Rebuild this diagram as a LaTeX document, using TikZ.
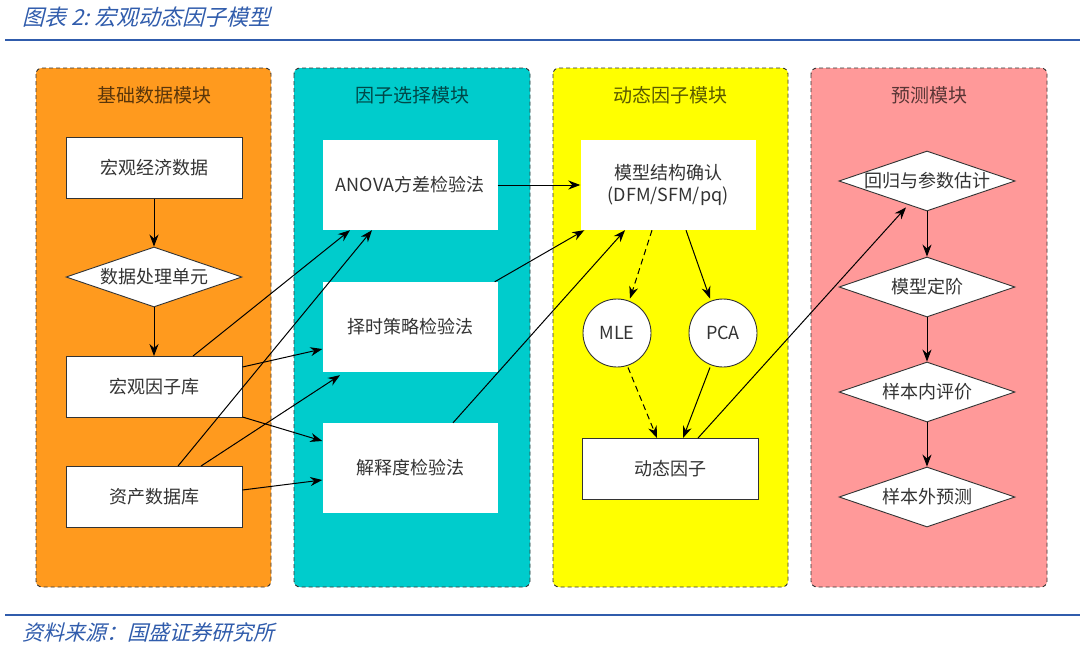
\documentclass[tikz,border=0pt]{standalone}
\usepackage{fontspec}
\setmainfont{Noto Sans CJK SC}
\newfontfamily\capfont[FakeSlant=0.25]{Noto Sans CJK SC}
\usetikzlibrary{positioning,arrows.meta,shapes.geometric}

\definecolor{capblue}{RGB}{48,92,172}
\definecolor{baseorange}{RGB}{255,154,30}
\definecolor{selteal}{RGB}{0,204,204}
\definecolor{dynyellow}{RGB}{255,255,0}
\definecolor{predpink}{RGB}{255,153,153}
\definecolor{txtgray}{RGB}{51,51,51}

\tikzset{
  modul/.style={draw=black!80, dash pattern=on 4pt off 3pt, rounded corners=6pt, line width=0.9pt},
  modtitel/.style={font=\fontsize{19}{21}\selectfont, text=black, text opacity=0.65},
  kasten/.style={rectangle, fill=white, draw=black!80, line width=0.9pt, minimum width=176pt, minimum height=61pt, font=\fontsize{18}{21}\selectfont, text=txtgray},
  feld/.style={rectangle, fill=white, minimum width=175pt, minimum height=90pt, font=\fontsize{18}{21}\selectfont, text=txtgray, align=center},
  raute/.style={diamond, aspect=3, inner sep=0pt, fill=white, draw=black!80, line width=0.9pt, minimum width=176pt, minimum height=60pt, font=\fontsize{18}{21}\selectfont, text=txtgray},
  kreis/.style={circle, fill=white, draw=black!80, line width=0.9pt, minimum size=68pt, font=\fontsize{18}{21}\selectfont, text=txtgray},
  pfeil/.style={-{Stealth[length=12pt,width=9pt]}, line width=1pt},
}

\begin{document}
\begin{tikzpicture}[x=1pt,y=-1pt]
    \useasboundingbox (0,0) rectangle (1080,648);
    \fill[white] (0,0) rectangle (1080,648);

    % Kopf und Fuss
    \node[anchor=west, font=\capfont\fontsize{22}{24}\selectfont, text=capblue] (caption) at (19,17) {图表\ 2:\ 宏观动态因子模型};
    \draw[capblue, line width=2pt] (5,40) -- (1080,40);
    \draw[capblue, line width=2pt] (5,615) -- (1080,615);
    \node[anchor=west, font=\capfont\fontsize{21}{23}\selectfont, text=capblue] (source) at (19,632) {资料来源：国盛证券研究所};

    % Module
    \draw[modul, fill=baseorange] (36,68) rectangle (271,587);
    \draw[modul, fill=selteal] (294,68) rectangle (530,587);
    \draw[modul, fill=dynyellow] (553,68) rectangle (788,587);
    \draw[modul, fill=predpink] (811,68) rectangle (1047,587);

    \node[modtitel] (tbase) at (154,95) {基础数据模块};
    \node[modtitel] (tsel) at (412,95) {因子选择模块};
    \node[modtitel] (tdyn) at (670,95) {动态因子模块};
    \node[modtitel] (tpred) at (929,95) {预测模块};

    % Basisdaten
    \node[kasten] (eco) at (154,168) {宏观经济数据};
    \node[raute] (proc) at (154,277) {数据处理单元};
    \node[kasten] (macro) at (154,387) {宏观因子库};
    \node[kasten] (asset) at (154,497) {资产数据库};

    % Faktorauswahl
    \node[feld] (anova) at (410,185) {ANOVA方差检验法};
    \node[feld] (timing) at (410,327) {择时策略检验法};
    \node[feld] (expl) at (410,468) {解释度检验法};

    % dynamische Faktoren
    \node[feld] (struct) at (668,185) {模型结构确认\\[1pt](DFM/SFM/pq)};
    \node[kreis] (mle) at (617,333) {MLE};
    \node[kreis] (pca) at (723,333) {PCA};
    \node[kasten] (dyn) at (670,469) {动态因子};

    % Prognose
    \node[raute] (est) at (927,181) {回归与参数估计};
    \node[raute] (order) at (927,287) {模型定阶};
    \node[raute] (insample) at (927,392) {样本内评价};
    \node[raute] (outsample) at (927,497) {样本外预测};

    % Verbindungen
    \draw[pfeil] (eco) -- (proc);
    \draw[pfeil] (proc) -- (macro);

    \draw[pfeil] ([xshift=39pt]macro.north) -- ([xshift=-60pt]anova.south);
    \draw[pfeil] ([xshift=24pt]asset.north) -- ([xshift=-38pt]anova.south);
    \draw[pfeil] ([yshift=20pt]macro.east) -- ([yshift=-22pt]timing.west);
    \draw[pfeil] ([xshift=47pt]asset.north) -- ([xshift=-70pt,yshift=-3pt]timing.south);
    \draw[pfeil] ([yshift=-30pt]macro.east) -- ([yshift=27pt]expl.west);
    \draw[pfeil] ([yshift=7pt]asset.east) -- ([yshift=-12pt]expl.west);

    \draw[pfeil] (anova) -- (struct);
    \draw[pfeil] ([xshift=-3pt]timing.north east) -- ([xshift=4pt]struct.south west);
    \draw[pfeil] ([xshift=43pt]expl.north) -- ([xshift=-43pt]struct.south);

    \draw[pfeil, dash pattern=on 6pt off 4pt] ([xshift=-16pt]struct.south) -- ([xshift=13pt]mle.north);
    \draw[pfeil] ([xshift=18pt]struct.south) -- ([xshift=-13pt]pca.north);
    \draw[pfeil, dash pattern=on 6pt off 4pt] ([xshift=11pt]mle.south) -- ([xshift=-13pt]dyn.north);
    \draw[pfeil] ([xshift=-13pt]pca.south) -- ([xshift=13pt]dyn.north);

    \draw[pfeil] ([xshift=28pt]dyn.north) -- ([xshift=-21pt,yshift=4pt]est.south);

    \draw[pfeil] (est) -- (order);
    \draw[pfeil] (order) -- (insample);
    \draw[pfeil] (insample) -- (outsample);

\end{tikzpicture}
\end{document}
